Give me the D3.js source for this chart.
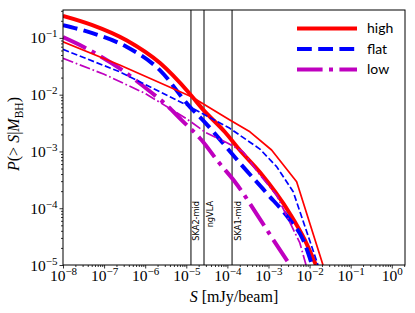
<!DOCTYPE html>
<html>
<head>
<meta charset="utf-8">
<script src="https://cdn.jsdelivr.net/npm/d3@7"></script>
<style>
  body { margin: 0; background: #fff; }
  svg { display: block; }
</style>
</head>
<body>
<svg id="chart" width="415" height="313"></svg>
<script>
// tick values and labels
const xTicks = [1e-8, 1e-7, 1e-6, 1e-5, 1e-4, 1e-3, 1e-2, 1e-1, 1e0];
const xTickExp = ["−8", "−7", "−6", "−5", "−4", "−3", "−2", "−1", "0"];
const yTicks = [1e-5, 1e-4, 1e-3, 1e-2, 1e-1];
const yTickExp = ["−5", "−4", "−3", "−2", "−1"];

// instrument sensitivities (vertical lines)
const instNames = ["SKA2-mid", "ngVLA", "SKA1-mid"];
const instS = [1.3e-5, 2.7e-5, 1.3e-4];

const legendLabels = ["high", "flat", "low"];

// thick curves
const highS = [1e-8, 5e-8, 3.5e-7, 2.3e-6, 1.2e-5, 2.6e-5, 8.7e-5, 2e-4, 6.2e-4, 3.3e-3, 7.7e-3, 1.43e-2];
const highP = [0.245, 0.17, 0.091, 0.036, 0.0105, 0.0054, 0.0022, 0.00106, 4.3e-4, 8.1e-5, 2.75e-5, 1e-5];
const flatS = [1e-8, 5.4e-8, 3.5e-7, 2.27e-6, 1.22e-5, 2.53e-5, 7.76e-5, 2.01e-4, 9e-4, 3.33e-3, 7e-3, 1.15e-2];
const flatP = [0.168, 0.12, 0.0697, 0.0271, 0.00612, 0.00357, 0.00141, 6.25e-4, 1.85e-4, 6.2e-5, 2.75e-5, 1e-5];
const lowS = [1e-8, 3.1e-8, 2.4e-7, 1.18e-6, 3.3e-6, 7.7e-6, 2.35e-5, 5.97e-5, 1.52e-4, 6.8e-4, 1.9e-3, 3.33e-3];
const lowP = [0.103, 0.0697, 0.029, 0.0121, 0.00656, 0.00357, 0.00159, 6.6e-4, 2.93e-4, 5.8e-5, 1.84e-5, 1e-5];

// thin curves
const highThinS = [1e-8, 2.4e-7, 1.34e-5, 1.15e-4, 3.54e-4, 1.19e-3, 4.85e-3, 2.12e-2];
const highThinP = [0.0853, 0.0332, 0.00918, 0.00357, 0.00222, 0.00106, 2.93e-4, 1e-5];
const flatThinS = [1e-8, 2.4e-7, 1.56e-6, 1.01e-5, 1.15e-4, 6.2e-4, 1.58e-3, 4e-3, 1.6e-2];
const flatThinP = [0.0628, 0.0253, 0.0129, 0.00656, 0.00255, 0.0011, 5.4e-4, 1.95e-4, 1e-5];
const lowThinS = [1e-8, 1e-7, 1e-6, 1e-5, 3e-5, 1e-4, 2.4e-4, 6.2e-4, 1.58e-3, 5.8e-3, 8.2e-3];
const lowThinP = [0.0436, 0.0229, 0.0105, 0.0038, 0.00214, 0.00141, 9.9e-4, 3.85e-4, 1.7e-4, 2.45e-5, 1e-5];

const pLeft = 63, pRight = 405, pTop = 10, pBottom = 265;

const svg = d3.select("#chart");

const x = d3.scaleLog().domain([1e-8, 2.1]).range([pLeft, pRight]);
const y = d3.scaleLog().domain([1e-5, 0.31]).range([pBottom, pTop]);

svg.append("clipPath").attr("id", "clip")
  .append("rect").attr("x", pLeft).attr("y", pTop)
  .attr("width", pRight - pLeft).attr("height", pBottom - pTop);

function minors(lo, hi) {
  let out = [];
  for (let e = Math.floor(Math.log10(lo)); e <= Math.ceil(Math.log10(hi)); e++) {
    for (let m = 2; m <= 9; m++) {
      let v = m * Math.pow(10, e);
      if (v >= lo && v <= hi) out.push(v);
    }
  }
  return out;
}

// minor ticks
svg.append("g").attr("transform", `translate(0,${pBottom})`)
  .call(d3.axisBottom(x).tickValues(minors(1e-8, 2.1)).tickSize(2).tickFormat(""))
  .call(g => g.select(".domain").remove());
svg.append("g").attr("transform", `translate(${pLeft},0)`)
  .call(d3.axisLeft(y).tickValues(minors(1e-5, 0.31)).tickSize(2).tickFormat(""))
  .call(g => g.select(".domain").remove());

// major ticks
const gx = svg.append("g").attr("transform", `translate(0,${pBottom})`)
  .call(d3.axisBottom(x).tickValues(xTicks).tickSize(3.5).tickFormat(""));
gx.select(".domain").remove();
gx.selectAll(".tick").append("text")
  .attr("y", 16).attr("fill", "#000")
  .attr("text-anchor", "middle")
  .style("font-family", "'Liberation Serif', serif").style("font-size", "15.5px")
  .each(function (d, i) {
    const t = d3.select(this);
    t.append("tspan").text("10");
    t.append("tspan").attr("dy", -6).style("font-size", "11px").text(xTickExp[i]);
  });

const gy = svg.append("g").attr("transform", `translate(${pLeft},0)`)
  .call(d3.axisLeft(y).tickValues(yTicks).tickSize(3.5).tickFormat(""));
gy.select(".domain").remove();
gy.selectAll(".tick").append("text")
  .attr("x", -5.5).attr("y", 5).attr("fill", "#000")
  .attr("text-anchor", "end")
  .style("font-family", "'Liberation Serif', serif").style("font-size", "15.5px")
  .each(function (d, i) {
    const t = d3.select(this);
    t.append("tspan").text("10");
    t.append("tspan").attr("dy", -6).style("font-size", "11px").text(yTickExp[i]);
  });

svg.selectAll(".tick line").attr("stroke", "#000").attr("stroke-width", 0.8);

// instrument lines
const plot = svg.append("g").attr("clip-path", "url(#clip)");
plot.selectAll(".inst").data(instS).enter().append("line")
  .attr("x1", d => x(d)).attr("x2", d => x(d))
  .attr("y1", pTop).attr("y2", pBottom)
  .attr("stroke", "#000").attr("stroke-width", 1);

svg.selectAll(".instLabel").data(instS).enter().append("text")
  .attr("transform", d => `translate(${x(d) + 8.5},201) rotate(-90)`)
  .attr("text-anchor", "end")
  .style("font-family", "'DejaVu Sans', sans-serif").style("font-size", "8.2px")
  .text((d, i) => instNames[i]);

// curves (thick ones smoothed, thin ones piecewise)
const series = [
  { s: highS, p: highP, color: "#ff0000", w: 4, dash: null, smooth: true },
  { s: flatS, p: flatP, color: "#0000ff", w: 4, dash: "14.8,6.4", smooth: true },
  { s: lowS, p: lowP, color: "#bf00bf", w: 4, dash: "25.6,6.4,4,6.4", smooth: true },
  { s: highThinS, p: highThinP, color: "#ff0000", w: 1.7, dash: null, smooth: false },
  { s: flatThinS, p: flatThinP, color: "#0000ff", w: 1.7, dash: "6.3,2.7", smooth: false },
  { s: lowThinS, p: lowThinP, color: "#bf00bf", w: 1.7, dash: "10.9,2.7,1.7,2.7", smooth: false }
];

const line = d3.line().x(d => x(d[0])).y(d => y(d[1]));
const smoothLine = d3.line().x(d => x(d[0])).y(d => y(d[1])).curve(d3.curveMonotoneX);

plot.selectAll(".curve").data(series).enter().append("path")
  .attr("d", d => (d.smooth ? smoothLine : line)(d3.zip(d.s, d.p)))
  .attr("fill", "none")
  .attr("stroke", d => d.color)
  .attr("stroke-width", d => d.w)
  .attr("stroke-dasharray", d => d.dash)
  .attr("stroke-linejoin", "round");

// frame
svg.append("rect").attr("x", pLeft).attr("y", pTop)
  .attr("width", pRight - pLeft).attr("height", pBottom - pTop)
  .attr("fill", "none").attr("stroke", "#000").attr("stroke-width", 1);

// legend
const leg = svg.append("g");
series.slice(0, 3).forEach((d, i) => {
  const ly = 28.5 + i * 20.5;
  leg.append("line")
    .attr("x1", 297).attr("x2", 357).attr("y1", ly).attr("y2", ly)
    .attr("stroke", d.color).attr("stroke-width", d.w)
    .attr("stroke-dasharray", d.dash);
  leg.append("text")
    .attr("x", 367).attr("y", ly + 4.5)
    .style("font-family", "Lato, sans-serif").style("font-size", "14px")
    .text(legendLabels[i]);
});

// axis titles
const xt = svg.append("text")
  .attr("x", (pLeft + pRight) / 2).attr("y", 302)
  .attr("text-anchor", "middle")
  .style("font-family", "'Liberation Serif', serif").style("font-size", "16px");
xt.append("tspan").style("font-style", "italic").text("S");
xt.append("tspan").text(" [mJy/beam]");

const yt = svg.append("text")
  .attr("transform", "translate(19,134) rotate(-90)")
  .attr("text-anchor", "middle")
  .style("font-family", "'Liberation Serif', serif").style("font-size", "16px");
yt.append("tspan").style("font-style", "italic").text("P");
yt.append("tspan").text("(> ");
yt.append("tspan").style("font-style", "italic").text("S");
yt.append("tspan").text("|");
yt.append("tspan").style("font-style", "italic").text("M");
yt.append("tspan").attr("dy", 3.5).style("font-size", "11.5px").text("BH");
yt.append("tspan").attr("dy", -3.5).text(")");
</script>
</body>
</html>
